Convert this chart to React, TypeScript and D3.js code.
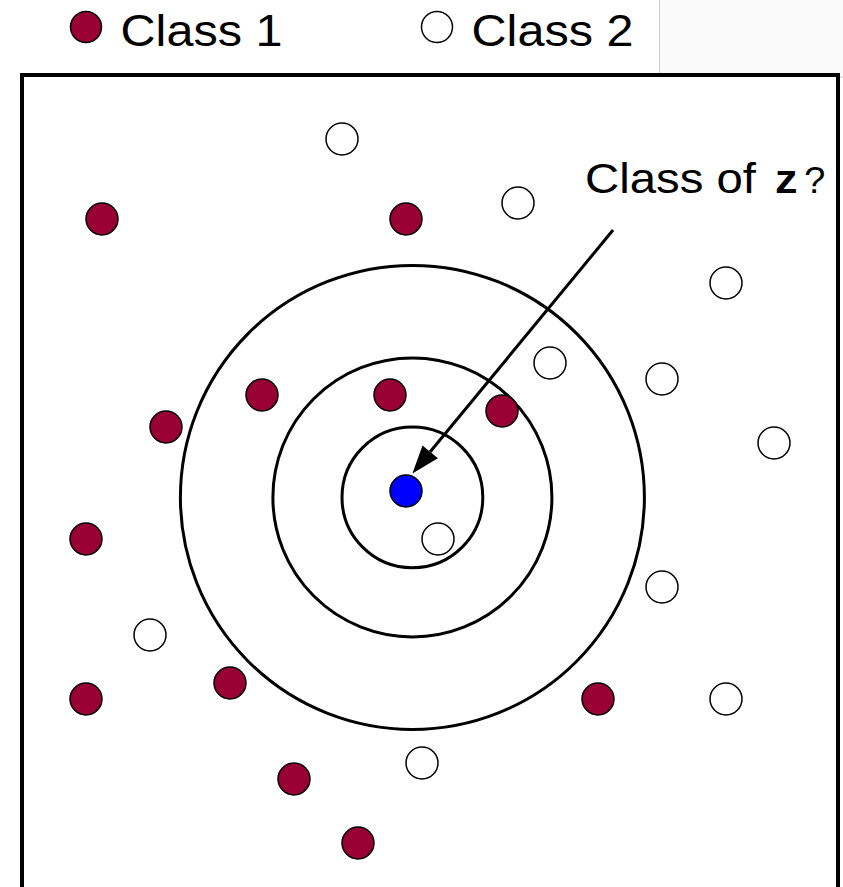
import React from "react";
import * as d3 from "d3";

// Data in grid units (1 unit = one cell of the original drawing grid)
const class1X = [5, 24, 15, 23, 30, 9, 4, 13, 4, 36, 17, 21];
const class1Y = [9, 9, 20, 20, 21, 22, 29, 38, 39, 39, 44, 48];
const class2X = [20, 31, 44, 33, 40, 47, 26, 40, 8, 44, 25];
const class2Y = [4, 8, 13, 18, 19, 23, 29, 32, 35, 39, 43];
const queryPoint = [24, 26];
const ringCenter = [24.4, 26.4];
const ringRadii = [4.4, 8.72, 14.5];
const arrowFrom = [36.94, 9.69];
const arrowTo = [24.4, 24.9];
const legendLabels = ["Class 1", "Class 2"];

const W = 843;
const H = 887;
const RED = "#990033";
const SANS = "Liberation Sans, Arial, sans-serif";
const MONO = "Liberation Mono, monospace";

export default function App() {
  const x = d3.scaleLinear().domain([0, 51]).range([22, 838]);
  const y = d3.scaleLinear().domain([0, 51]).range([75, 891]);
  const unit = x(1) - x(0);
  const r = 16;

  const class1 = class1X.map((v, i) => ({ x: v, y: class1Y[i] }));
  const class2 = class2X.map((v, i) => ({ x: v, y: class2Y[i] }));

  // arrow geometry
  const sx = x(arrowFrom[0]), sy = y(arrowFrom[1]);
  const tx = x(arrowTo[0]), ty = y(arrowTo[1]);
  const len = Math.hypot(sx - tx, sy - ty);
  const ux = (sx - tx) / len, uy = (sy - ty) / len;
  const headLen = 28, headHalf = 10;
  const bx = tx + ux * headLen, by = ty + uy * headLen;
  const px = -uy, py = ux;
  const head = d3.path();
  head.moveTo(tx, ty);
  head.lineTo(bx + px * headHalf, by + py * headHalf);
  head.lineTo(bx - px * headHalf, by - py * headHalf);
  head.closePath();

  return (
    <svg
      width={W}
      height={H}
      style={{ position: "absolute", left: 0, top: 0, background: "#fff" }}
    >
      <rect x={0} y={0} width={W} height={H} fill="#fff" />
      {/* gray panel top right */}
      <rect x={659.5} y={-2} width={200} height={79} fill="#fafafa" stroke="#cccccc" strokeWidth={1} />

      {/* legend */}
      <circle cx={86} cy={27} r={15.5} fill={RED} stroke="#000" strokeWidth={1.5} />
      <text x={120.5} y={46} fontFamily={SANS} fontSize={45} fill="#000" textLength={162} lengthAdjust="spacingAndGlyphs">
        {legendLabels[0]}
      </text>
      <circle cx={437} cy={27} r={15.5} fill="#fff" stroke="#000" strokeWidth={1.5} />
      <text x={471.5} y={46} fontFamily={SANS} fontSize={45} fill="#000" textLength={162} lengthAdjust="spacingAndGlyphs">
        {legendLabels[1]}
      </text>

      {/* frame */}
      <rect x={x(0)} y={y(0)} width={x(51) - x(0)} height={900} fill="#fff" stroke="#000" strokeWidth={4} />

      {/* rings */}
      {ringRadii.map((rr, i) => (
        <circle
          key={i}
          cx={x(ringCenter[0])}
          cy={y(ringCenter[1])}
          r={rr * unit}
          fill="none"
          stroke="#000"
          strokeWidth={3}
        />
      ))}

      {/* points */}
      {class1.map((d, i) => (
        <circle key={"a" + i} cx={x(d.x)} cy={y(d.y)} r={r} fill={RED} stroke="#000" strokeWidth={1.5} />
      ))}
      {class2.map((d, i) => (
        <circle key={"b" + i} cx={x(d.x)} cy={y(d.y)} r={r} fill="#fff" stroke="#000" strokeWidth={1.5} />
      ))}

      {/* arrow */}
      <line x1={sx} y1={sy} x2={bx} y2={by} stroke="#000" strokeWidth={3} />
      <path d={head.toString()} fill="#000" />

      {/* query point */}
      <circle cx={x(queryPoint[0])} cy={y(queryPoint[1])} r={r} fill="#0000ff" stroke="#000" strokeWidth={1.5} />

      {/* annotation */}
      <text x={585} y={193} fontFamily={SANS} fontSize={43} fill="#000" textLength={171} lengthAdjust="spacingAndGlyphs">
        Class of
      </text>
      <text x={774} y={193} fontFamily={MONO} fontWeight="bold" fontSize={40} fill="#000" textLength={25} lengthAdjust="spacingAndGlyphs">
        z
      </text>
      <text x={804} y={193} fontFamily={MONO} fontSize={38} fill="#000">
        ?
      </text>
    </svg>
  );
}
